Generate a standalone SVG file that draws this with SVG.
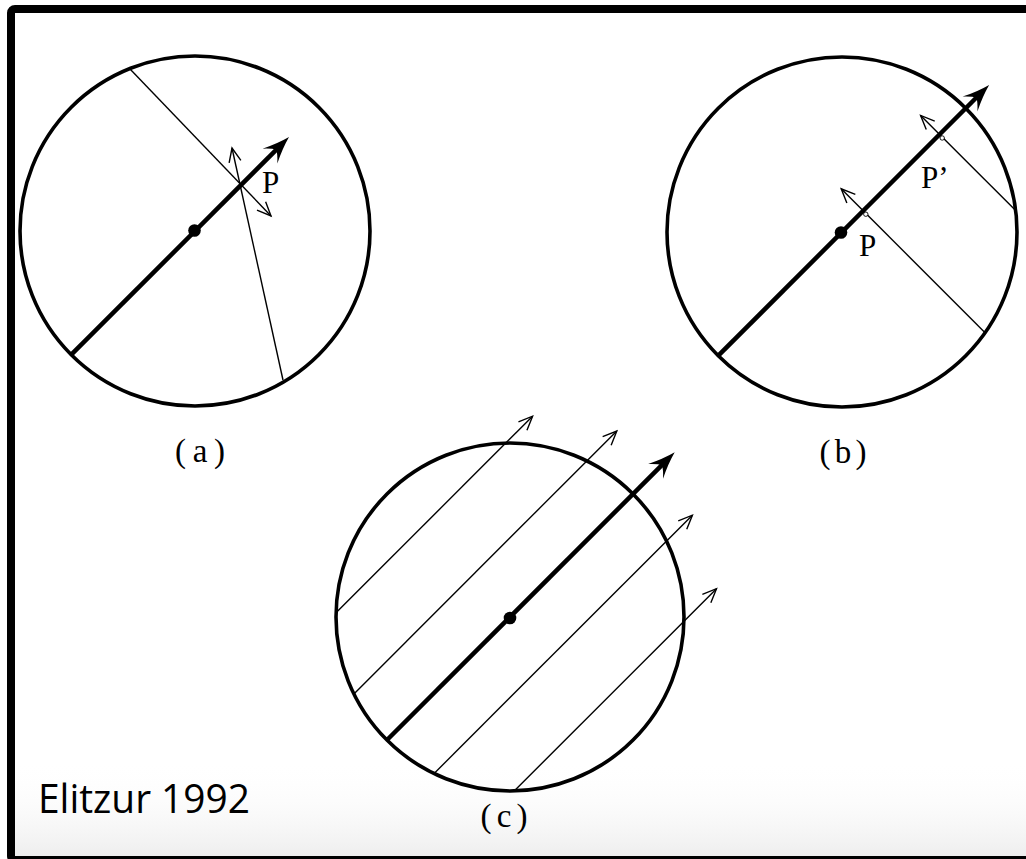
<svg xmlns="http://www.w3.org/2000/svg" width="1026" height="859" viewBox="0 0 1026 859">
  <defs>
    <linearGradient id="fade" x1="0" y1="0" x2="0" y2="1">
      <stop offset="0" stop-color="#ffffff" stop-opacity="0"/>
      <stop offset="1" stop-color="#eeeeee" stop-opacity="1"/>
    </linearGradient>
    <marker id="thick" markerUnits="userSpaceOnUse" viewBox="-12 -12 34 24" markerWidth="34" markerHeight="24" refX="3" refY="0" orient="auto" overflow="visible">
      <path d="M18,0 Q5,-3.5 -9,-10.5 Q-2,-4 0,0 Q-2,4 -9,10.5 Q5,3.5 18,0 Z" fill="#000"/>
    </marker>
    <marker id="open" markerUnits="userSpaceOnUse" viewBox="-16 -8 18 16" markerWidth="18" markerHeight="16" refX="0" refY="0" orient="auto" overflow="visible">
      <path d="M-14,-6 L0,0 L-14,6" fill="none" stroke="#000" stroke-width="1.4"/>
    </marker>
  </defs>
  <style>
    .disk { fill: none; stroke: #000; stroke-width: 3.6; }
    .axis { fill: none; stroke: #000; stroke-width: 4.5; marker-end: url(#thick); }
    .ray { fill: none; stroke: #000; stroke-width: 1.4; }
    .rayA { fill: none; stroke: #000; stroke-width: 1.4; marker-end: url(#open); }
    .dot { fill: #000; }
    .mark { fill: #fff; stroke: #000; stroke-width: 0.9; }
    .lbl { font-family: "Liberation Serif", "DejaVu Serif", serif; font-size: 31px; fill: #000; }
    .cap { font-family: "Liberation Serif", "DejaVu Serif", serif; font-size: 33px; fill: #000; text-anchor: middle; }
    .credit { font-family: "Open Sans", "Liberation Sans", sans-serif; font-size: 40px; fill: #000; }
  </style>

  <rect x="0" y="0" width="1026" height="859" fill="#fff"/>
  <rect x="15" y="760" width="1011" height="96" fill="url(#fade)"/>
  <rect x="11" y="9" width="1030" height="851" rx="4" fill="none" stroke="#000" stroke-width="8"/>

  <g id="diagram-a">
    <circle class="disk" cx="195" cy="231" r="175"/>
    <g id="connectors-a">
      <line class="axis" x1="71.3" y1="354.7" x2="278.4" y2="147.6"/>
      <line class="rayA" x1="130" y1="69" x2="271" y2="216"/>
      <line class="rayA" x1="283" y1="380" x2="232" y2="148"/>
    </g>
    <circle class="dot" cx="194.5" cy="230.5" r="6.3"/>
    <text class="lbl" x="262" y="193">P</text>
    <text class="cap" x="200" y="462" textLength="50" lengthAdjust="spacing">(a)</text>
  </g>

  <g id="diagram-b">
    <circle class="disk" cx="842" cy="232" r="175"/>
    <g id="connectors-b">
      <line class="axis" x1="718.3" y1="355.7" x2="978.5" y2="95.5"/>
      <line class="ray" x1="863.2" y1="210.8" x2="985.1" y2="332.7"/>
      <line class="rayA" x1="863.2" y1="210.8" x2="841.2" y2="188.8"/>
      <line class="ray" x1="939.6" y1="134.4" x2="1015.7" y2="210.5"/>
      <line class="rayA" x1="939.6" y1="134.4" x2="920.6" y2="115.4"/>
    </g>
    <circle class="mark" cx="865.8" cy="214.2" r="2.2"/>
    <circle class="mark" cx="942.2" cy="138" r="2.2"/>
    <circle class="dot" cx="841" cy="232.5" r="6.3"/>
    <text class="lbl" x="859" y="256">P</text>
    <text class="lbl" x="921" y="188">P’</text>
    <text class="cap" x="843" y="463" textLength="47" lengthAdjust="spacing">(b)</text>
  </g>

  <g id="diagram-c">
    <circle class="disk" cx="510" cy="617" r="174"/>
    <g id="connectors-c">
      <line class="axis" x1="387" y1="740" x2="664.1" y2="462.9"/>
      <line class="rayA" x1="336" y1="612.8" x2="532.6" y2="416.2"/>
      <line class="rayA" x1="353.9" y1="693.9" x2="616.8" y2="431"/>
      <line class="rayA" x1="434.1" y1="773.5" x2="692.4" y2="515.2"/>
      <line class="rayA" x1="514.2" y1="791" x2="716.5" y2="588.7"/>
    </g>
    <circle class="dot" cx="510" cy="618" r="6.3"/>
    <text class="cap" x="504" y="827" textLength="47" lengthAdjust="spacing">(c)</text>
  </g>

  <text id="credit" class="credit" x="38" y="813" textLength="212" lengthAdjust="spacingAndGlyphs">Elitzur 1992</text>
</svg>
